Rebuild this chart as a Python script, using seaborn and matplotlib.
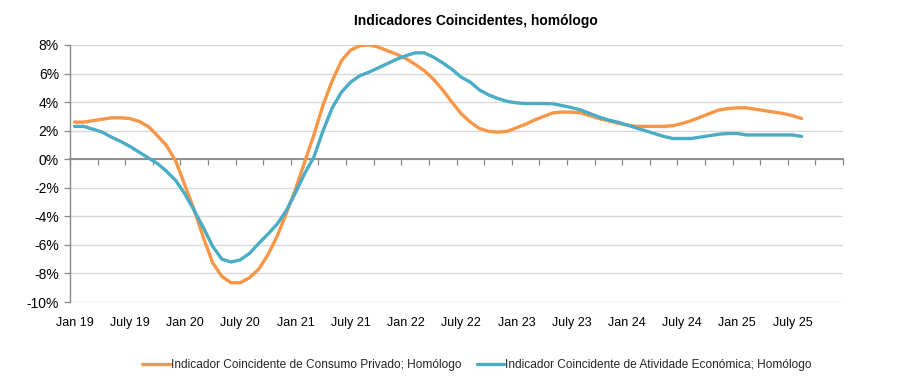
import numpy as np
import pandas as pd
import matplotlib
matplotlib.use("Agg")
import matplotlib.pyplot as plt
import seaborn as sns

# ---------------- data ----------------
n_categories = 84  # Jan 2019 .. Dec 2025 (category axis)
tick_labels = ["Jan 19", "July 19", "Jan 20", "July 20", "Jan 21", "July 21",
               "Jan 22", "July 22", "Jan 23", "July 23", "Jan 24", "July 24",
               "Jan 25", "July 25"]

consumo_privado = [
    2.6, 2.6, 2.7, 2.8, 2.9, 2.9, 2.85, 2.65, 2.3, 1.65,
    0.95, -0.15, -1.85, -3.55, -5.5, -7.25, -8.2, -8.65, -8.65, -8.3,
    -7.7, -6.7, -5.4, -3.8, -2.1, -0.2, 1.7, 3.8, 5.5, 6.9,
    7.65, 7.95, 8.0, 7.85, 7.6, 7.35, 7.05, 6.65, 6.2, 5.6,
    4.85, 4.0, 3.2, 2.6, 2.15, 1.95, 1.9, 1.95, 2.2, 2.45,
    2.75, 3.0, 3.25, 3.3, 3.3, 3.25, 3.05, 2.85, 2.7, 2.52,
    2.4, 2.3, 2.3, 2.3, 2.3, 2.35, 2.5, 2.7, 2.95, 3.2,
    3.45, 3.55, 3.6, 3.6, 3.5, 3.4, 3.3, 3.2, 3.05, 2.85]

atividade_economica = [
    2.3, 2.3, 2.1, 1.9, 1.55, 1.25, 0.9, 0.5, 0.1, -0.3,
    -0.85, -1.5, -2.45, -3.6, -4.8, -6.1, -7.0, -7.2, -7.05, -6.6,
    -5.9, -5.25, -4.55, -3.6, -2.35, -1.0, 0.15, 2.0, 3.6, 4.7,
    5.4, 5.85, 6.1, 6.4, 6.7, 7.0, 7.25, 7.45, 7.45, 7.15,
    6.75, 6.3, 5.75, 5.4, 4.85, 4.5, 4.25, 4.05, 3.95, 3.9,
    3.9, 3.9, 3.88, 3.75, 3.62, 3.45, 3.2, 2.95, 2.75, 2.6,
    2.4, 2.2, 2.0, 1.8, 1.6, 1.45, 1.45, 1.45, 1.55, 1.65,
    1.75, 1.8, 1.8, 1.7, 1.7, 1.7, 1.7, 1.7, 1.7, 1.6]

series_names = ["Indicador Coincidente de Consumo Privado; Homólogo",
                "Indicador Coincidente de Atividade Económica; Homólogo"]
colors = ["#F79646", "#4BACC6"]

# ---------------- frame ----------------
frames = []
for name, vals in zip(series_names, [consumo_privado, atividade_economica]):
    frames.append(pd.DataFrame({"idx": np.arange(len(vals)), "value": vals, "serie": name}))
df = pd.concat(frames, ignore_index=True)

# ---------------- plot ----------------
sns.set_theme(style="white")
plt.rcParams["font.family"] = ["Liberation Sans", "DejaVu Sans"]

fig = plt.figure(figsize=(9.14, 3.92), dpi=100)
ax = fig.add_axes([70 / 914, 1 - 302 / 392, (843 - 70) / 914, (302 - 45) / 392])

sns.lineplot(data=df, x="idx", y="value", hue="serie", hue_order=series_names,
             palette=dict(zip(series_names, colors)), linewidth=2.4, ax=ax,
             legend=False)

ax.set_xlim(-0.5, n_categories - 0.5)
ax.set_ylim(-10, 8)
ax.set_xlabel("")
ax.set_ylabel("")

# horizontal gridlines
ax.set_yticks(np.arange(-10, 9, 2))
ax.set_yticklabels([f"{v}%" for v in range(-10, 9, 2)], fontsize=10, color="black")
ax.yaxis.grid(True, color="#D9D9D9", linewidth=1.0)
ax.set_axisbelow(True)
ax.tick_params(axis="y", which="both", left=True, length=4, width=0.9,
               color="#868686", pad=4)

# spines
for s in ["top", "right"]:
    ax.spines[s].set_visible(False)
ax.spines["left"].set_color("#868686")
ax.spines["left"].set_linewidth(1.0)
ax.spines["bottom"].set_position(("data", 0))
ax.spines["bottom"].set_color("#868686")
ax.spines["bottom"].set_linewidth(1.3)
ax.spines["bottom"].set_zorder(1.5)

# tick marks on zero line every 3 months (category boundaries)
ax.set_xticks(np.arange(-0.5, n_categories, 3))
ax.tick_params(axis="x", which="major", bottom=True, direction="out", length=4,
               width=0.9, color="#868686", labelbottom=False)

# labels at the bottom of the plot area
sec = ax.secondary_xaxis("bottom")
sec.set_xticks(np.arange(0, 6 * len(tick_labels), 6))
sec.set_xticklabels(tick_labels, fontsize=9, color="black")
sec.tick_params(axis="x", length=0, pad=11)
sec.spines["bottom"].set_visible(False)

# title
fig.text(476 / 914, 1 - 21 / 392, "Indicadores Coincidentes, homólogo",
         ha="center", va="center", fontsize=10, fontweight="bold", color="black")

# legend
handles = [plt.Line2D([], [], color=c, linewidth=2.4) for c in colors]
fig.legend(handles, series_names, loc="center", bbox_to_anchor=(477 / 914, 1 - 365 / 392),
           ncol=2, frameon=False, fontsize=8.6, handlelength=2.3, handletextpad=0.1,
           columnspacing=1.3)

fig.savefig("out.png", dpi=100)
